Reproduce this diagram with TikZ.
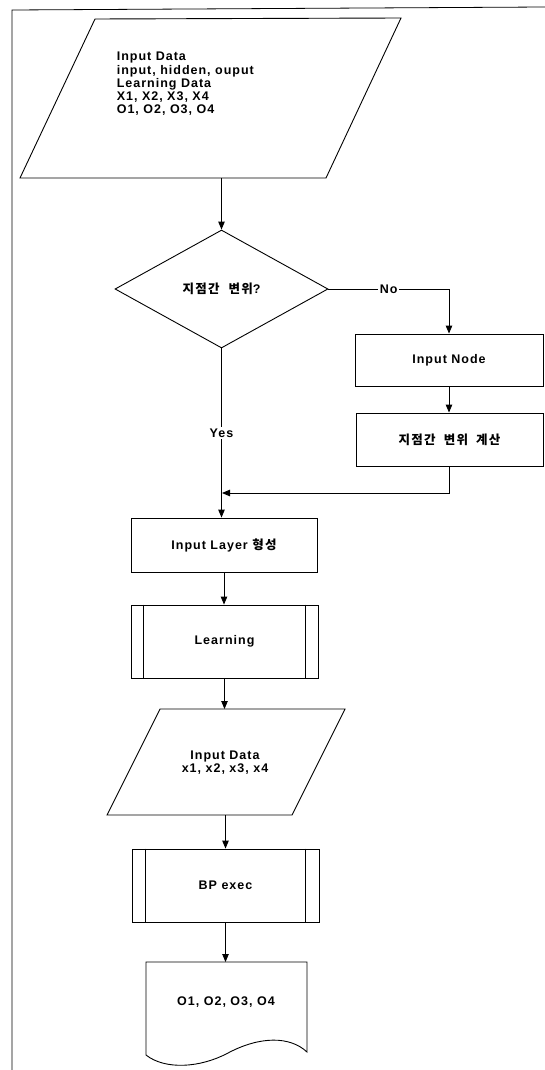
\documentclass[tikz,border=0pt]{standalone}
\usepackage{fontspec}
\setmainfont{Liberation Sans}[LetterSpace=8]
\newfontfamily\kr{Noto Sans CJK KR}[LetterSpace=10]
\usetikzlibrary{shapes.geometric,arrows.meta,calc}
\begin{document}
\begin{tikzpicture}[x=1pt,y=-1pt, line width=0.9pt,
  font=\bfseries\fontsize{12.5}{13.2}\selectfont,
  >={Triangle[length=8pt,width=6.5pt]},
  proc/.style={draw, rectangle, inner sep=0pt},
  box/.style={inner sep=0pt, outer sep=0pt},
  lbl/.style={fill=white, inner sep=1.5pt}]
\useasboundingbox (0,0) rectangle (545,1070);
\draw[line width=0.8pt] (12,1070) -- (12,10) -- (545,7);

% input parallelogram 1
\node[box, minimum width=381pt, minimum height=160pt] (in1) at (210.5,98) {};
\draw (95,19) -- (401,18) -- (326,178) -- (20,178) -- cycle;
\node[anchor=west, align=left] (t1) at (113,84) {Input Data\\input, hidden, ouput\\Learning Data\\X1, X2, X3, X4\\O1, O2, O3, O4};

% decision
\node[draw, diamond, minimum width=213pt, minimum height=118pt, inner sep=0pt] (dec) at (221.5,289) {{\kr 지점간}\ \ {\kr 변위}?};
\draw[->] (in1.south -| dec.north) -- (dec.north);

% right branch
\node[proc, minimum width=188pt, minimum height=52pt] (n1) at (449,360) {Input Node};
\node[proc, minimum width=187pt, minimum height=53pt] (n2) at (449.5,439.5) {{\kr 지점간\ \ 변위\ \ 계산}};
\draw[->] (dec.east) -- node[lbl]{No} (dec.east -| n1.north) -- (n1.north);
\draw[->] (n1.south) -- (n1.south |- n2.north);
\coordinate (m) at (222,493);
\draw[->] (n2.south) -- (n2.south |- m) -- (m);

% main column
\node[proc, minimum width=186pt, minimum height=54pt] (layer) at (224,545) {Input Layer {\kr 형성}};
\draw[->] (dec.south) -- node[lbl]{Yes} (dec.south |- layer.north);

\node[proc, minimum width=187pt, minimum height=73pt] (learn) at (224.5,641.5) {Learning};
\draw ([xshift=13pt]learn.north west) -- ([xshift=13pt]learn.south west);
\draw ([xshift=-13pt]learn.north east) -- ([xshift=-13pt]learn.south east);
\draw[->] (layer.south) -- (layer.south |- learn.north);

\node[box, minimum width=238pt, minimum height=106pt] (in2) at (226,762) {};
\draw (160,709) -- (345,709) -- (292,815) -- (107,815) -- cycle;
\node[align=center] (t2) at (225,763) {Input Data\\x1, x2, x3, x4};
\draw[->] (learn.south) -- (learn.south |- in2.north);

\node[proc, minimum width=187pt, minimum height=73pt] (bp) at (225.5,885.5) {BP exec};
\draw ([xshift=14pt]bp.north west) -- ([xshift=14pt]bp.south west);
\draw ([xshift=-14pt]bp.north east) -- ([xshift=-14pt]bp.south east);
\draw[->] (in2.south -| bp.north) -- (bp.north);

\node[box, minimum width=161pt, minimum height=93pt] (doc) at (226.5,1008.5) {};
\draw (146,1055) -- (146,962) -- (307,962) -- (307,1052)
  .. controls (290,1036) and (260,1036) .. (228,1053)
  .. controls (200,1068) and (165,1070) .. (146,1055);
\node (t3) at (226,1002) {O1, O2, O3, O4};
\draw[->] (bp.south) -- (bp.south |- doc.north);
\end{tikzpicture}
\end{document}
